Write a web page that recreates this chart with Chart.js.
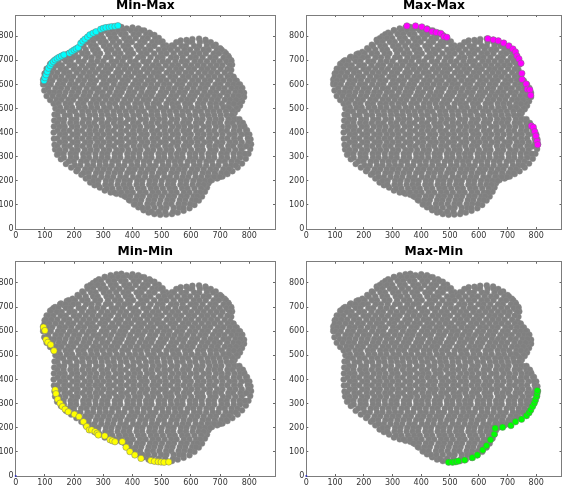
<!DOCTYPE html>
<html>
<head>
<meta charset="utf-8">
<script src="https://cdn.jsdelivr.net/npm/chart.js@4"></script>
<style>
  html, body { margin: 0; padding: 0; background: #fff; }
  body { position: relative; width: 566px; height: 485px; overflow: hidden; }
  canvas { position: absolute; }
</style>
</head>
<body>
<canvas id="c1" width="283" height="243" style="left:0;top:0"></canvas>
<canvas id="c2" width="283" height="243" style="left:283px;top:0"></canvas>
<canvas id="c3" width="283" height="242" style="left:0;top:243px"></canvas>
<canvas id="c4" width="283" height="242" style="left:283px;top:243px"></canvas>
<script>
const tickValues = [0, 100, 200, 300, 400, 500, 600, 700, 800];

// grey cloud (estimated, single points can't be told apart)
const cloudY = [824, 808, 792, 776, 760, 744, 728, 712, 696, 680, 664, 648, 632, 616, 600, 584, 568, 552, 536, 520, 504, 488, 472, 456, 440, 424, 408, 392, 376, 360, 344, 328, 312, 296, 280, 264, 248, 232, 216, 200, 184, 168, 152, 136, 120, 104, 88, 72];
const cloudX = [
  [305, 331, 352, 369, 395, 414, 431],
  [275, 292, 318, 337, 361, 376, 404, 421, 447, 463],
  [256, 281, 299, 326, 343, 372, 389, 411, 436, 452, 478],
  [247, 265, 291, 308, 333, 355, 380, 398, 426, 441, 468, 485, 497, 562, 589, 604, 631, 652],
  [232, 258, 274, 302, 321, 344, 369, 385, 414, 430, 457, 475, 505, 542, 568, 583, 611, 628, 655, 676],
  [217, 240, 265, 281, 311, 328, 351, 377, 394, 421, 443, 461, 490, 509, 531, 554, 578, 597, 621, 643, 661, 689, 705],
  [181, 203, 228, 246, 273, 289, 316, 340, 359, 385, 402, 430, 448, 474, 498, 516, 541, 566, 584, 610, 629, 651, 678, 695, 720],
  [152, 171, 197, 214, 241, 260, 283, 309, 325, 352, 373, 391, 419, 436, 462, 487, 503, 532, 550, 572, 599, 617, 640, 667, 684, 712, 730],
  [130, 146, 172, 188, 216, 233, 259, 279, 300, 329, 345, 366, 392, 410, 437, 455, 481, 503, 522, 547, 569, 586, 613, 633, 655, 678, 699, 722, 738],
  [120, 141, 158, 184, 201, 227, 250, 267, 293, 314, 335, 358, 378, 404, 421, 448, 470, 489, 514, 536, 556, 581, 601, 623, 644, 667, 688, 708, 734],
  [112, 129, 154, 172, 199, 217, 240, 263, 284, 308, 325, 351, 373, 393, 414, 439, 459, 482, 500, 527, 549, 567, 593, 611, 637, 656, 677, 702, 725],
  [103, 122, 142, 166, 184, 209, 231, 252, 273, 298, 316, 344, 360, 385, 408, 426, 451, 473, 490, 517, 537, 559, 582, 601, 626, 648, 669, 690, 716],
  [99, 115, 136, 156, 180, 197, 222, 245, 263, 289, 306, 331, 353, 376, 395, 421, 439, 463, 485, 504, 530, 546, 573, 592, 614, 637, 660, 680, 702, 726, 746],
  [107, 125, 151, 169, 190, 214, 234, 257, 275, 302, 322, 340, 366, 384, 410, 429, 453, 471, 497, 516, 540, 561, 579, 605, 625, 648, 666, 693, 712, 733, 752],
  [103, 120, 145, 162, 186, 204, 229, 251, 268, 295, 311, 336, 358, 375, 402, 421, 443, 464, 486, 508, 527, 553, 570, 596, 615, 639, 658, 684, 701, 727, 746, 764],
  [111, 136, 155, 177, 200, 218, 243, 266, 284, 308, 327, 351, 370, 392, 416, 434, 460, 478, 503, 524, 544, 566, 587, 609, 632, 650, 675, 696, 715, 739, 758, 773],
  [117, 132, 150, 171, 193, 214, 236, 256, 280, 298, 322, 345, 363, 388, 406, 431, 453, 470, 497, 515, 538, 560, 579, 604, 622, 646, 667, 686, 711, 729, 752, 770],
  [127, 148, 166, 190, 208, 232, 251, 274, 297, 314, 339, 356, 382, 400, 424, 445, 465, 489, 507, 533, 550, 574, 597, 613, 638, 658, 680, 699, 724, 745, 763],
  [140, 157, 180, 197, 223, 241, 266, 285, 308, 329, 348, 372, 393, 415, 438, 455, 480, 498, 524, 542, 567, 587, 606, 631, 650, 672, 692, 716, 734, 755],
  [147, 171, 188, 214, 232, 257, 277, 298, 321, 340, 365, 384, 409, 428, 450, 472, 490, 516, 536, 555, 580, 597, 624, 642, 666, 686, 706, 731, 747],
  [152, 175, 193, 217, 237, 259, 279, 303, 322, 346, 365, 389, 409, 430, 454, 473, 497, 515, 540, 559, 582, 603, 624, 645, 668, 688, 711, 730],
  [146, 162, 186, 203, 228, 248, 270, 292, 312, 335, 355, 377, 398, 421, 439, 465, 484, 507, 528, 549, 571, 590, 615, 634, 657, 677, 698, 720],
  [143, 168, 185, 210, 229, 253, 272, 295, 316, 336, 360, 379, 403, 422, 446, 466, 486, 509, 529, 553, 572, 596, 615, 639, 659, 680, 702, 723, 740],
  [149, 166, 191, 208, 233, 251, 276, 295, 320, 340, 359, 385, 403, 428, 446, 470, 491, 510, 535, 553, 578, 597, 621, 640, 664, 685, 704, 729, 748, 766],
  [143, 164, 187, 207, 228, 250, 269, 294, 313, 336, 358, 376, 402, 420, 445, 465, 486, 509, 528, 551, 573, 592, 617, 635, 660, 680, 700, 725, 743, 766, 778],
  [150, 168, 193, 211, 235, 255, 276, 299, 318, 343, 361, 386, 406, 426, 450, 468, 494, 512, 536, 557, 577, 600, 619, 644, 662, 686, 706, 727, 749, 769, 783],
  [144, 165, 184, 209, 227, 252, 272, 293, 316, 335, 360, 378, 402, 423, 443, 467, 485, 510, 530, 552, 574, 593, 618, 636, 661, 680, 704, 723, 747, 766, 789],
  [152, 169, 195, 212, 237, 256, 279, 300, 320, 345, 362, 388, 406, 431, 449, 473, 494, 514, 538, 556, 581, 600, 624, 644, 665, 687, 708, 732, 750, 773, 792],
  [143, 166, 184, 209, 228, 251, 272, 292, 317, 335, 360, 379, 403, 423, 444, 468, 486, 511, 529, 554, 574, 596, 618, 637, 662, 680, 706, 725, 748, 768, 795],
  [151, 169, 195, 212, 238, 256, 280, 301, 321, 346, 363, 389, 407, 432, 451, 473, 496, 514, 540, 557, 583, 602, 623, 646, 665, 690, 708, 733, 752, 774, 797],
  [143, 167, 185, 210, 229, 252, 274, 293, 318, 336, 361, 380, 404, 425, 445, 469, 487, 512, 531, 553, 576, 594, 620, 638, 663, 683, 703, 728, 745, 769, 790],
  [150, 170, 194, 212, 237, 257, 278, 302, 320, 345, 364, 386, 409, 427, 452, 471, 494, 516, 534, 559, 578, 601, 624, 641, 667, 685, 710, 729, 752, 773],
  [146, 164, 188, 206, 231, 250, 273, 296, 314, 339, 357, 382, 402, 423, 446, 464, 489, 508, 531, 552, 571, 596, 615, 637, 660, 679, 704, 723, 746, 767, 785],
  [165, 189, 207, 232, 251, 274, 295, 315, 339, 358, 383, 402, 424, 447, 465, 490, 509, 532, 553, 572, 597, 616, 638, 661, 680, 705, 724, 747, 768],
  [181, 199, 224, 243, 266, 287, 307, 331, 350, 375, 394, 416, 439, 457, 482, 501, 524, 545, 564, 589, 608, 630, 653, 672, 697, 716, 739, 759],
  [203, 221, 246, 265, 288, 309, 329, 353, 372, 397, 416, 438, 461, 479, 504, 523, 546, 567, 586, 611, 630, 652, 675, 694, 719, 738, 754],
  [213, 238, 257, 280, 301, 321, 345, 364, 389, 408, 430, 453, 471, 496, 515, 538, 559, 578, 603, 622, 644, 667, 686, 711, 730],
  [232, 250, 275, 294, 317, 338, 358, 382, 401, 426, 445, 467, 490, 508, 533, 552, 575, 596, 615, 640, 659, 681, 704, 722],
  [251, 270, 293, 314, 334, 358, 377, 402, 421, 443, 466, 484, 509, 528, 551, 572, 591, 616, 635, 657, 680, 699],
  [266, 283, 309, 328, 351, 372, 391, 416, 434, 459, 478, 500, 523, 541, 566, 585, 608, 629, 648, 666],
  [282, 307, 326, 349, 370, 389, 414, 433, 457, 476, 498, 521, 539, 564, 583, 606, 627, 644],
  [312, 331, 354, 375, 395, 419, 438, 463, 482, 504, 527, 545, 570, 589, 612, 635],
  [338, 361, 382, 401, 426, 445, 469, 488, 510, 533, 551, 576, 595, 618, 632],
  [373, 392, 416, 435, 460, 479, 501, 524, 542, 567, 586, 609, 622],
  [388, 411, 430, 455, 474, 496, 519, 537, 562, 581, 604, 618],
  [408, 426, 451, 470, 492, 515, 533, 558, 577, 597],
  [434, 453, 475, 498, 516, 541, 560, 574],
  [465, 490, 512, 539]
];

// smooth outer edge of the cloud
const rimX = [345, 362, 380, 400, 420, 440, 458, 475, 490, 503, 515, 524, 535, 550, 565, 585, 605, 628, 650, 668, 685, 700, 715, 728, 738, 741, 738, 735, 745, 757, 768, 776, 782, 782, 775, 768, 760, 750, 745, 755, 770, 782, 792, 800, 804, 806, 803, 797, 788, 775, 760, 742, 725, 708, 690, 672, 660, 655, 648, 638, 627, 612, 595, 575, 555, 535, 515, 495, 475, 455, 438, 420, 405, 392, 378, 362, 345, 325, 305, 288, 270, 255, 240, 225, 208, 190, 172, 155, 142, 135, 133, 131, 130, 131, 132, 133, 136, 130, 118, 106, 98, 94, 94, 99, 106, 118, 135, 155, 175, 195, 212, 228, 245, 265, 285, 305, 325];
const rimY = [836, 838, 832, 836, 832, 824, 815, 805, 793, 778, 762, 752, 762, 775, 782, 784, 788, 790, 785, 775, 765, 750, 735, 718, 700, 682, 660, 640, 630, 615, 600, 585, 565, 548, 530, 512, 497, 482, 470, 455, 442, 428, 410, 392, 372, 352, 332, 312, 292, 272, 255, 240, 228, 218, 210, 203, 190, 172, 155, 135, 118, 100, 86, 76, 68, 62, 60, 59, 62, 68, 78, 90, 102, 118, 133, 142, 146, 152, 160, 172, 182, 193, 210, 225, 240, 255, 270, 290, 308, 330, 350, 375, 400, 425, 450, 475, 500, 520, 535, 552, 575, 600, 620, 645, 665, 685, 700, 715, 725, 735, 750, 765, 785, 800, 815, 825, 832];

// points just inside the rim, where the rows stop short of it
const innerX = [755, 745, 762, 752, 768, 735, 742, 720, 773, 760, 95, 108, 165, 185, 125, 325, 345, 285, 270, 700, 720, 728, 684, 668, 645, 735, 770, 780];
const innerY = [505, 520, 525, 535, 545, 498, 490, 505, 558, 575, 608, 650, 708, 716, 690, 815, 820, 805, 790, 735, 705, 690, 225, 215, 180, 255, 300, 340];

// coloured edge points of each panel
const minMaxX = [97, 100, 104, 108, 112, 118, 123, 129, 135, 142, 149, 157, 165, 184, 192, 200, 207, 214, 223, 230, 237, 246, 254, 265, 275, 291, 300, 309, 320, 329, 340, 350];
const minMaxY = [616, 628, 640, 653, 667, 678, 688, 695, 702, 708, 713, 718, 723, 730, 737, 743, 748, 753, 771, 780, 788, 797, 806, 813, 819, 829, 833, 836, 838, 840, 841, 844];

const maxMaxX = [350, 380, 402, 420, 438, 452, 468, 479, 489, 632, 651, 668, 687, 705, 719, 728, 733, 740, 747, 750, 751, 765, 769, 778, 781, 783, 790, 795, 799, 803, 805];
const maxMaxY = [843, 843, 839, 829, 819, 816, 812, 799, 796, 790, 785, 781, 772, 760, 747, 735, 718, 706, 688, 646, 621, 602, 580, 577, 555, 428, 422, 404, 386, 364, 350];

const minMinX = [95, 100, 104, 110, 120, 131, 135, 138, 144, 152, 160, 169, 180, 201, 217, 232, 243, 252, 260, 272, 279, 283, 305, 323, 331, 340, 365, 378, 391, 408, 429, 463, 475, 488, 498, 508, 524];
const minMinY = [617, 603, 565, 554, 544, 519, 357, 341, 318, 302, 288, 277, 266, 256, 246, 225, 205, 191, 191, 184, 177, 170, 166, 150, 146, 142, 142, 119, 101, 87, 73, 64, 61, 59, 58, 57, 58];

const maxMinX = [495, 509, 520, 529, 551, 578, 595, 614, 627, 641, 654, 657, 683, 712, 728, 749, 766, 775, 781, 787, 793, 797, 801, 803, 804];
const maxMinY = [57, 57, 59, 62, 66, 76, 87, 108, 126, 150, 173, 198, 202, 209, 225, 235, 250, 262, 274, 288, 302, 316, 329, 342, 354];

const originX = [0];
const originY = [0];

function pairs(xs, ys) {
  return xs.map((x, i) => ({ x: x, y: ys[i] }));
}

function cloudPoints() {
  const pts = pairs(rimX, rimY).concat(pairs(innerX, innerY));
  cloudY.forEach((y, i) => {
    cloudX[i].forEach(x => pts.push({ x: x, y: y }));
  });
  return pts;
}

function axis(position, showLabels, size) {
  const horizontal = position === 'bottom' || position === 'top';
  return {
    type: 'linear',
    axis: horizontal ? 'x' : 'y',
    position: position,
    min: 0,
    max: 888,
    afterBuildTicks: s => { s.ticks = tickValues.map(v => ({ value: v })); },
    afterFit: s => {
      if (horizontal) s.height = size;
      else s.width = size;
    },
    border: { display: true, color: '#7c7c7c', width: 1 },
    grid: { drawOnChartArea: false, drawTicks: true, tickLength: -2, tickColor: '#666' },
    ticks: {
      display: showLabels,
      autoSkip: false,
      maxRotation: 0,
      padding: 4,
      color: '#333',
      font: { family: 'DejaVu Sans', size: 8 }
    }
  };
}

function panel(id, name, color, xs, ys, box) {
  const datasets = [
    {
      data: pairs(xs, ys),
      order: 0,
      pointRadius: 3.2,
      pointBackgroundColor: color,
      pointBorderColor: '#777',
      pointBorderWidth: 0.5
    },
    {
      data: cloudPoints(),
      order: 1,
      pointRadius: 3,
      pointBackgroundColor: '#808080',
      pointBorderColor: '#8a8a8a',
      pointBorderWidth: 0.4
    }
  ];
  if (box.origin) {
    datasets.push({
      data: pairs(originX, originY),
      order: 0,
      clip: false,
      pointRadius: 1,
      pointBackgroundColor: '#3333bb',
      pointBorderWidth: 0
    });
  }
  new Chart(document.getElementById(id), {
    type: 'scatter',
    data: { datasets: datasets },
    options: {
      responsive: false,
      animation: false,
      layout: { padding: { top: box.titleTop, right: box.right, bottom: 0, left: 0 } },
      plugins: {
        legend: { display: false },
        tooltip: { enabled: false },
        title: {
          display: true,
          text: name,
          fullSize: false,
          color: '#000',
          font: { family: 'DejaVu Sans', size: 12.3, weight: 'bold', lineHeight: 0.8 },
          padding: { top: 0, bottom: box.titleGap }
        }
      },
      scales: {
        x: axis('bottom', true, box.below),
        y: axis('left', true, box.left),
        x2: axis('top', false, 0),
        y2: axis('right', false, 0)
      }
    }
  });
}

panel('c1', 'Min-Max', '#00ffff', minMaxX, minMaxY, { left: 15.7, right: 8, below: 14, titleTop: 1, titleGap: 4.2 });
panel('c2', 'Max-Max', '#ff00ff', maxMaxX, maxMaxY, { left: 23.3, right: 0.7, below: 14, titleTop: 1, titleGap: 4.2 });
panel('c3', 'Min-Min', '#ffff00', minMinX, minMinY, { left: 15.7, right: 8, below: 9, titleTop: 4, titleGap: 4.9, origin: true });
panel('c4', 'Max-Min', '#00ff00', maxMinX, maxMinY, { left: 23.3, right: 0.7, below: 9, titleTop: 4, titleGap: 4.9, origin: true });
</script>
</body>
</html>
